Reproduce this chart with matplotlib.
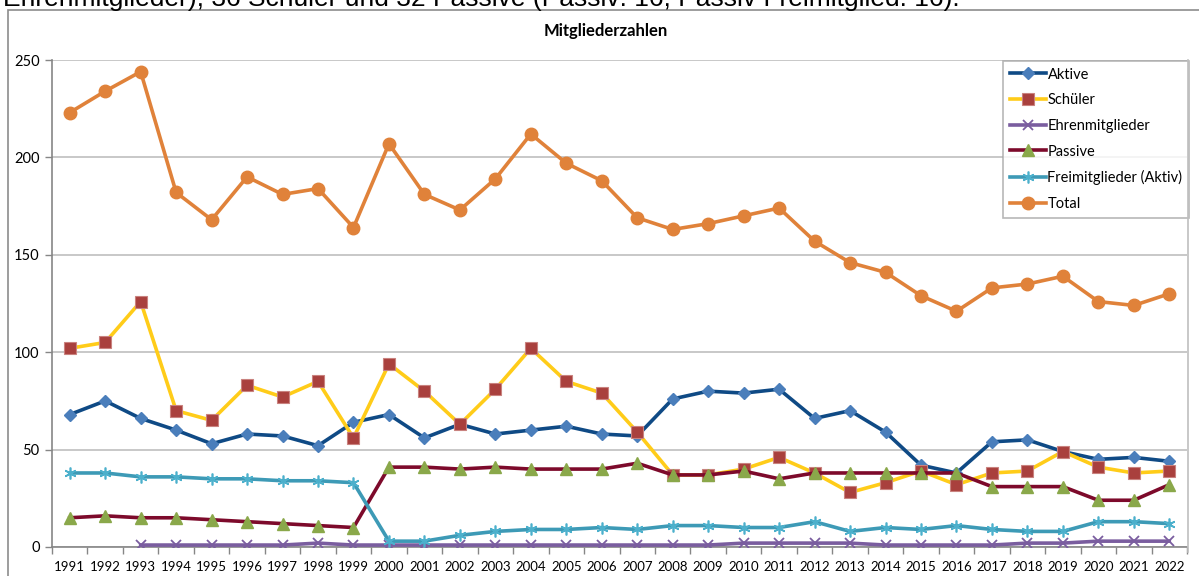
import matplotlib
matplotlib.use("Agg")
import matplotlib.pyplot as plt
from matplotlib.lines import Line2D
import numpy as np

years = [str(y) for y in range(1991, 2023)]
aktive = [68, 75, 66, 60, 53, 58, 57, 52, 64, 68, 56, 63, 58, 60, 62, 58,
          57, 76, 80, 79, 81, 66, 70, 59, 42, 38, 54, 55, 49, 45, 46, 44]
schueler = [102, 105, 126, 70, 65, 83, 77, 85, 56, 94, 80, 63, 81, 102, 85, 79,
            59, 37, 37, 40, 46, 38, 28, 33, 39, 32, 38, 39, 49, 41, 38, 39]
ehren = [np.nan, np.nan, 1, 1, 1, 1, 1, 2, 1, 1, 1, 1, 1, 1, 1, 1,
         1, 1, 1, 2, 2, 2, 2, 1, 1, 1, 1, 2, 2, 3, 3, 3]
passive = [15, 16, 15, 15, 14, 13, 12, 11, 10, 41, 41, 40, 41, 40, 40, 40,
           43, 37, 37, 39, 35, 38, 38, 38, 38, 38, 31, 31, 31, 24, 24, 32]
frei = [38, 38, 36, 36, 35, 35, 34, 34, 33, 3, 3, 6, 8, 9, 9, 10,
        9, 11, 11, 10, 10, 13, 8, 10, 9, 11, 9, 8, 8, 13, 13, 12]
total = [223, 234, 244, 182, 168, 190, 181, 184, 164, 207, 181, 173, 189, 212, 197, 188,
         169, 163, 166, 170, 174, 157, 146, 141, 129, 121, 133, 135, 139, 126, 124, 130]

title = "Mitgliederzahlen"
header = "Ehrenmitglieder), 36 Schüler und 32 Passive (Passiv: 16, Passiv Freimitglied: 16)."

W, H = 1199, 576
fig = plt.figure(figsize=(W / 100, H / 100), dpi=100)
plt.rcParams['font.family'] = ['Lato', 'DejaVu Sans']

# header text (cut at top, as in the source)
fig.text(3 / W, 1 - 6 / H, header, ha='left', va='baseline', fontsize=19,
         family='Liberation Sans', color='black')

# outer chart border
fig.add_artist(plt.Rectangle((8 / W, -0.1), 1.2, 1 - 10 / H + 0.1, transform=fig.transFigure,
                             fill=False, edgecolor='#8c8c8c', linewidth=1.2))
fig.add_artist(Line2D([1188 / W, 1188 / W], [1 - 552 / H, 1 - 60 / H], transform=fig.transFigure,
                      color='#bfbfbf', linewidth=1.2))

ax = fig.add_axes([52 / W, 1 - 547 / H, (1187 - 52) / W, (547 - 60) / H])
x = np.arange(len(years))

series = [
    ("Aktive", aktive, '#0f4a85', dict(marker='D', markersize=6.5, markerfacecolor='#4a7ebb', markeredgecolor='#4a7ebb')),
    ("Schüler", schueler, '#ffcc19', dict(marker='s', markersize=9, markerfacecolor='#a9403d', markeredgecolor='#c9827f', markeredgewidth=0.8)),
    ("Ehrenmitglieder", ehren, '#7a5d9f', dict(marker='x', markersize=7, markeredgecolor='#7a5d9f', markeredgewidth=1.3)),
    ("Passive", passive, '#7d0a2b', dict(marker='^', markersize=9, markerfacecolor='#8aa84a', markeredgecolor='#8aa84a')),
    ("Freimitglieder (Aktiv)", frei, '#3d9ab6', dict(marker=(6, 2, 0), markersize=8.5, markeredgecolor='#4cb0cc', markeredgewidth=1.2)),
    ("Total", total, '#e0823a', dict(marker='o', markersize=9, markerfacecolor='#e0823a', markeredgecolor='#e0823a')),
]
for name, vals, col, mk in series:
    ax.plot(x, vals, color=col, linewidth=2.6, label=name, zorder=3, **mk)

ax.set_xlim(-0.5, len(years) - 0.5)
ax.set_ylim(0, 250)
ax.set_yticks([0, 50, 100, 150, 200, 250])
ax.set_xticks(x)
ax.set_xticklabels(years)
ax.set_xticks(np.arange(-0.5, len(years) + 0.5, 1), minor=True)
ax.tick_params(axis='x', which='major', length=0, labelsize=9.5, pad=10, colors='black')
ax.tick_params(axis='x', which='minor', length=5, color='#868686', width=1)
ax.tick_params(axis='y', length=5, color='#868686', width=1, labelsize=10.5, pad=4)
ax.tick_params(axis='y', colors='#868686', labelcolor='black')
ax.grid(axis='y', color='#bfbfbf', linewidth=1.2, zorder=0)
ax.set_axisbelow(True)
for s in ['top', 'right']:
    ax.spines[s].set_visible(False)
for s in ['left', 'bottom']:
    ax.spines[s].set_color('#868686')
    ax.spines[s].set_linewidth(1.2)

fig.text(606 / W, 1 - 31 / H, title, ha='center', va='center', fontsize=12, fontweight='bold')

leg = ax.legend(loc='upper left', bbox_to_anchor=((1003 - 52) / (1187 - 52), 1 - (61 - 60) / 487),
                frameon=True, fancybox=False, edgecolor='#a6a6a6', fontsize=10.5,
                handlelength=2.5, handletextpad=0.1, labelspacing=0.8, borderpad=0.45,
                borderaxespad=0)
leg.get_frame().set_linewidth(1.2)

fig.savefig("out.png", dpi=100, facecolor='white')
